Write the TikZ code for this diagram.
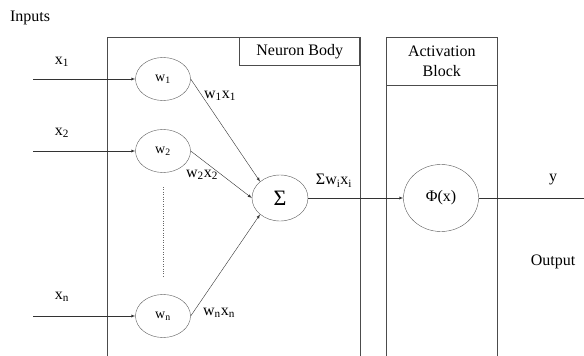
\documentclass[tikz,border=0pt]{standalone}
\usepackage{fontspec}
\setmainfont{Liberation Serif}
\usetikzlibrary{shapes}

\begin{document}
\begin{tikzpicture}[x=1pt,y=-1pt]
\tikzstyle{every node}=[font=\fontsize{16}{20}\selectfont]
\tikzstyle{weight}=[
  ellipse,
  draw=black!65,
  minimum width=55pt,
  minimum height=43pt,
  inner sep=0pt,
  font=\fontsize{14}{16}\selectfont ]
\tikzstyle{link}=[->, >=latex, draw=black!80]
\tikzstyle{boxline}=[draw=black!70, line width=0.6pt]
\useasboundingbox (0,0) rectangle (584,356);
% blocks
\draw[boxline] (107,360) -- (107,37) -- (360,37) -- (360,360);
\draw[boxline] (386,360) -- (386,37) -- (497,37) -- (497,360);
\node[boxline, minimum width=120pt, minimum height=28pt, anchor=north east] (bodylabel) at (360,37) {Neuron Body};
\node[boxline, minimum width=111pt, minimum height=48pt, anchor=north west, align=center] (actlabel) at (386,37) {Activation\\Block};
% inputs
\node (inputs) at (30,18) {Inputs};
\node (x1) at (62,62) {x\textsubscript{1}};
\node (x2) at (62,133) {x\textsubscript{2}};
\node (xn) at (62,297) {x\textsubscript{n}};
\coordinate (in1) at (33,79);
\coordinate (in2) at (33,151);
\coordinate (inn) at (33,316);
\node[weight] (w1) at (163,79) {w\textsubscript{1}};
\node[weight] (w2) at (163,151) {w\textsubscript{2}};
\node[weight] (wn) at (163,316) {w\textsubscript{n}};
\draw[dotted, black!60] (163,187) -- (163,277);
% summation and activation
\node[weight, minimum width=56pt, minimum height=46pt, font=\fontsize{22}{24}\selectfont] (sum) at (280,198) {Σ};
\node[weight, minimum width=75pt, minimum height=67pt, font=\fontsize{16}{18}\selectfont] (phi) at (441,198) {Φ(x)};
\coordinate (out) at (584,198);
\draw[link] (in1) -- (w1);
\draw[link] (in2) -- (w2);
\draw[link] (inn) -- (wn);
\draw[link] (w1.east) -- (sum.north west);
\draw[link] (w2.east) -- (sum.west);
\draw[link] (wn.east) -- (sum.south west);
\draw[link] (sum) -- (phi);
\draw[draw=black!80] (phi) -- (out);
% labels
\node (w1x1) at (220,96) {w\textsubscript{1}x\textsubscript{1}};
\node (w2x2) at (202,175) {w\textsubscript{2}x\textsubscript{2}};
\node (wnxn) at (219,313) {w\textsubscript{n}x\textsubscript{n}};
\node (sumwx) at (334,181) {Σw\textsubscript{i}x\textsubscript{i}};
\node (y) at (553,180) {y};
\node (output) at (553,262) {Output};
\end{tikzpicture}
\end{document}
